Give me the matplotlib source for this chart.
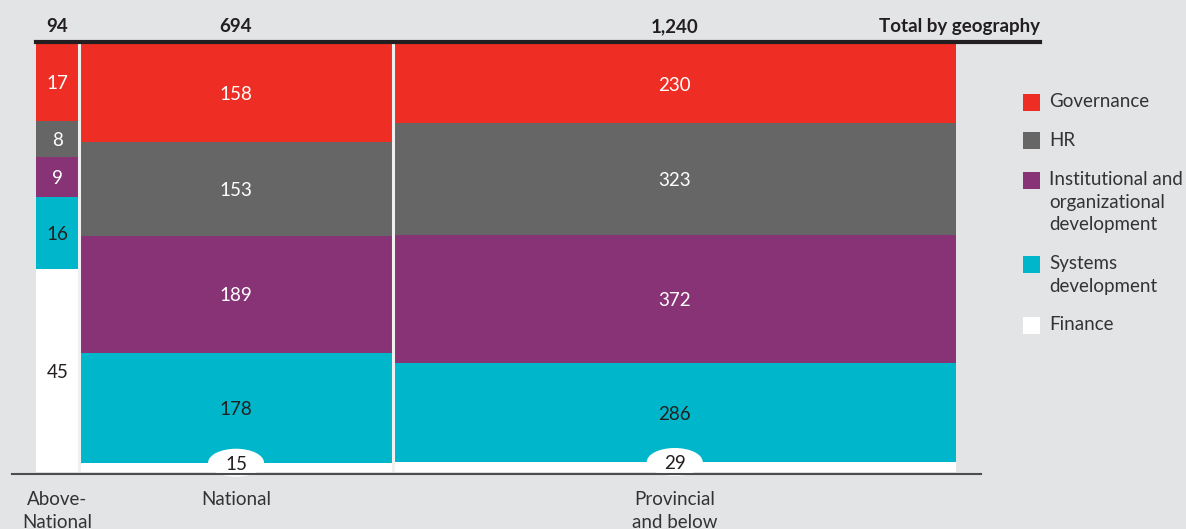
import matplotlib
matplotlib.use("Agg")
from matplotlib import pyplot as plt
from matplotlib.lines import Line2D
from matplotlib.patches import Rectangle, Ellipse

plt.rcParams['font.family'] = ['Lato', 'DejaVu Sans']

# 数据
geographies = ["Above-\nNational", "National", "Provincial\nand below"]
totals = [94, 694, 1240]
categories = ["Governance", "HR", "Institutional and\norganizational\ndevelopment",
              "Systems\ndevelopment", "Finance"]
governance = [17, 158, 230]
hr = [8, 153, 323]
institutional = [9, 189, 372]
systems = [16, 178, 286]
finance = [45, 15, 29]

colors = ["#ee2e24", "#666667", "#873376", "#00b6cb", "#ffffff"]
text_colors = ["white", "white", "white", "#231f20", "#231f20"]
bg = "#e3e4e6"

W, H = 1186, 529
def fx(px):
    return px / W
def fy(py):
    return 1 - py / H

fig = plt.figure(figsize=(W / 100, H / 100), dpi=100, facecolor=bg)
ax = fig.add_axes([fx(36), fy(472), 920 / W, 428 / H])
ax.set_facecolor(bg)
ax.set_xlim(0, sum(totals))
ax.set_ylim(0, 1)
ax.axis("off")

series = [governance, hr, institutional, systems, finance]
lefts = [sum(totals[:i]) for i in range(len(totals))]
ell_w = 56 / 920 * sum(totals)   # 椭圆宽度 56px
ell_h = 28 / 428

for j in range(len(totals)):
    col = [s[j] for s in series]
    col_sum = sum(col)
    top = 1.0
    for i, v in enumerate(col):
        h = v / col_sum
        bottom = top - h
        ax.bar(lefts[j], h, width=totals[j], bottom=bottom, align="edge",
               color=colors[i], edgecolor="none", linewidth=0)
        xc = lefts[j] + totals[j] / 2
        if i == len(col) - 1 and j > 0:
            # 小数值用椭圆标注
            ax.add_patch(Ellipse((xc, h), ell_w, ell_h, fc="white", ec="none",
                                 zorder=3, clip_on=False))
            ax.text(xc, h, str(v), ha="center", va="center_baseline",
                    fontsize=13.5, color="#231f20", zorder=4)
        else:
            ax.text(xc, bottom + h / 2, str(v), ha="center",
                    va="center_baseline", fontsize=13.5, color=text_colors[i])
        top = bottom

# 列之间的分隔线
for x in lefts[1:]:
    ax.axvline(x, color="#f0f0f0", lw=2.2)

# 顶部总数 / 底部分类
for j in range(len(totals)):
    xc = lefts[j] + totals[j] / 2
    ax.text(xc, (472 - 25) / 428, f"{totals[j]:,}", ha="center",
            va="center_baseline", fontsize=13.5, fontweight="bold",
            color="#231f20", transform=ax.get_xaxis_transform())
    ax.text(xc, -(491 - 472) / 428, geographies[j], ha="center", va="top",
            fontsize=13.5, color="#333333", linespacing=1.4,
            transform=ax.get_xaxis_transform())
fig.text(fx(1040), fy(25), "Total by geography", ha="right",
         va="center_baseline", fontsize=13.5, fontweight="bold",
         color="#231f20")

fig.add_artist(Line2D([fx(36), fx(1040)], [fy(41.5), fy(41.5)],
                      color="#231f20", lw=3))
fig.add_artist(Line2D([fx(12), fx(981)], [fy(474), fy(474)],
                      color="#4d4d4d", lw=1.5))

# 图例
y = 102
for i, lab in enumerate(categories):
    fig.add_artist(Rectangle((fx(1023), fy(y + 8.5)), 17 / W, 17 / H,
                             transform=fig.transFigure, fc=colors[i], ec="none"))
    fig.text(fx(1049), fy(y - 9), lab, ha="left", va="top", fontsize=13.5,
             color="#333333", linespacing=1.4)
    y += lab.count("\n") * 22.5 + 39

fig.savefig("out.png", dpi=100, facecolor=bg)
